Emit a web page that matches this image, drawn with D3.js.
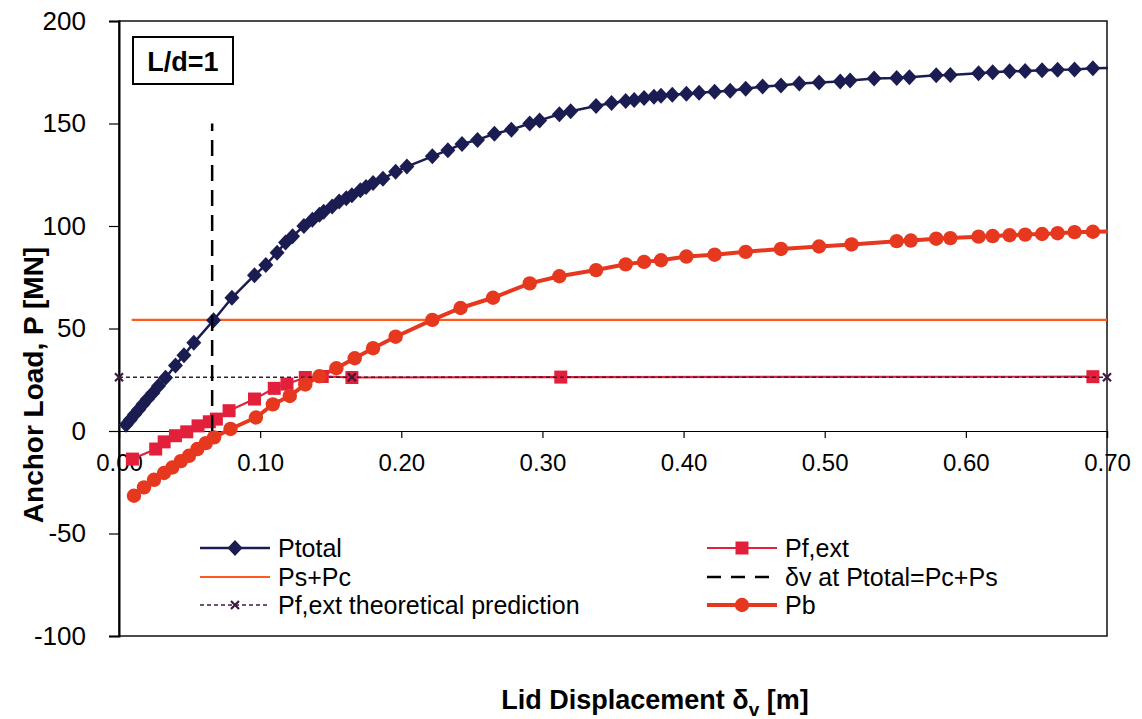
<!DOCTYPE html>
<html>
<head>
<meta charset="utf-8">
<script src="https://cdn.jsdelivr.net/npm/d3@7"></script>
<style>
  body { margin: 0; background: #fff; }
  svg { display: block; }
  text { font-family: "Liberation Sans", Arial, Helvetica, sans-serif; fill: #000; }
</style>
</head>
<body>
<svg id="chart" width="1142" height="719"></svg>
<script>
// Lid displacement [m] and anchor load components [MN], L/d = 1
const ptotalX = [0.005,0.008,0.011,0.014,0.017,0.020,0.024,0.028,0.033,0.040,
  0.046,0.053,0.067,0.080,0.096,0.104,0.112,0.118,0.123,0.131,
  0.137,0.142,0.145,0.151,0.156,0.161,0.165,0.171,0.175,0.180,
  0.187,0.196,0.204,0.222,0.233,0.243,0.254,0.266,0.278,0.291,
  0.298,0.312,0.320,0.338,0.349,0.359,0.365,0.372,0.379,0.384,
  0.392,0.402,0.411,0.422,0.433,0.444,0.456,0.469,0.482,0.496,
  0.511,0.518,0.535,0.551,0.560,0.579,0.589,0.609,0.619,0.631,
  0.642,0.654,0.665,0.677,0.690,0.710];
const ptotalY = [3,5.5,8,10.5,13,15.5,18.5,22,26,32,
  37,43,54,65,76,81,87,92,95,100,
  103,105.5,107,109.5,112,113.5,115,117.5,119,121,
  123,126.5,129,134,137,140,142,145,147,150,
  151.5,154.5,156,158.5,160,161,161.5,162.5,163,163.5,
  164,164.5,165,165.5,166,167,168,168.5,169.5,170,
  170.5,171,172,172.2,172.6,173.5,173.7,174.5,175,175.5,
  175.6,176,176.2,176.4,177,177.2];

const pbX = [0.0106,0.0177,0.0248,0.0319,0.0378,0.0438,0.0496,0.0555,0.0615,0.0674,
  0.079,0.097,0.109,0.121,0.132,0.142,0.154,0.167,0.180,0.196,
  0.222,0.242,0.265,0.291,0.312,0.338,0.359,0.372,0.384,0.402,
  0.422,0.444,0.469,0.496,0.519,0.551,0.561,0.579,0.589,0.609,
  0.619,0.631,0.642,0.654,0.665,0.677,0.690,0.710];
const pbY = [-31.6,-27.5,-23.8,-20.5,-17.8,-14.7,-12.1,-8.8,-5.9,-3.1,
  1,6.6,13,17.1,22.7,26.7,30.6,35.5,40.4,46,
  54.2,60,65,72,75.5,78.5,81.3,82.5,83.3,85.1,
  86,87.4,88.8,90,91,92.6,92.9,93.8,94.1,94.8,
  95.1,95.5,95.8,96.1,96.5,97,97.2,97.4];

const pfX = [0.0095,0.026,0.032,0.040,0.048,0.056,0.064,0.069,0.078,0.096,
  0.110,0.119,0.132,0.144,0.165,0.313,0.690];
const pfY = [-13.7,-8.8,-5.3,-2.3,-0.4,2.5,4.5,5.8,9.9,15.6,
  20.8,22.9,26.1,26.6,26.1,26.3,26.5];

const theoryX = [0, 0.165, 0.70];
const theoryY = [26.2, 26.2, 26.2];

const pspcX = [0.009, 0.70];
const pspcY = [54.2, 54.2];

const dvX = [0.066, 0.066];
const dvY = [0, 150];

const xTicks = [0, 0.1, 0.2, 0.3, 0.4, 0.5, 0.6, 0.7];
const yTicks = [-100, -50, 0, 50, 100, 150, 200];

const legendLeft = ["Ptotal", "Ps+Pc", "Pf,ext theoretical prediction"];
const legendRight = ["Pf,ext", "\u03b4v at Ptotal=Pc+Ps", "Pb"];

const C = {
  ptotal: "#1b1c52",
  pspc: "#ff5a1c",
  pf: "#e2203c",
  pb: "#e6381f",
  theory: "#3c1a3c",
  dv: "#000"
};

const svg = d3.select("#chart");
const plot = { left: 119, right: 1107, top: 21, bottom: 636 };
const x = d3.scaleLinear().domain([0, 0.7]).range([plot.left, plot.right]);
const y = d3.scaleLinear().domain([-100, 200]).range([plot.bottom, plot.top]);

const zip = (xs, ys) => xs.map((v, i) => [v, ys[i]]);
const line = d3.line().x(d => x(d[0])).y(d => y(d[1]));
const inside = d => d[0] <= 0.7;

svg.append("defs").append("clipPath").attr("id", "plotClip")
  .append("rect")
  .attr("x", plot.left).attr("y", plot.top)
  .attr("width", plot.right - plot.left + 1).attr("height", plot.bottom - plot.top);

// plot area frame
svg.append("rect")
  .attr("x", plot.left).attr("y", plot.top)
  .attr("width", plot.right - plot.left).attr("height", plot.bottom - plot.top)
  .attr("fill", "none").attr("stroke", "#111").attr("stroke-width", 1.5);

// y axis (ticks outside to the left)
const yAxis = d3.axisLeft(y).tickValues(yTicks).tickSize(10).tickPadding(23).tickFormat(d => String(d));
const gy = svg.append("g").attr("transform", `translate(${plot.left},0)`).call(yAxis);
gy.select(".domain").attr("stroke", "#000").attr("stroke-width", 2);
gy.selectAll(".tick line").attr("stroke", "#000").attr("stroke-width", 1.2);
gy.selectAll("text").style("font-size", "26px").attr("fill", "#000");

// x axis along zero load
const xAxis = d3.axisBottom(x).tickValues(xTicks).tickSize(7).tickPadding(16).tickFormat(d3.format(".2f"));
const gx = svg.append("g").attr("transform", `translate(0,${y(0)})`).call(xAxis);
gx.select(".domain").attr("stroke", "#000").attr("stroke-width", 1.2);
gx.selectAll(".tick line").attr("stroke", "#000").attr("stroke-width", 1.2);
gx.selectAll("text").style("font-size", "24px").attr("fill", "#000");

const series = svg.append("g");
const clipped = series.append("g").attr("clip-path", "url(#plotClip)");

// Ps + Pc
clipped.append("path").datum(zip(pspcX, pspcY))
  .attr("d", line).attr("fill", "none").attr("stroke", C.pspc).attr("stroke-width", 2.2);

// Pf,ext
const pfData = zip(pfX, pfY);
clipped.append("path").datum(pfData)
  .attr("d", line).attr("fill", "none").attr("stroke", C.pf).attr("stroke-width", 2.2);
const sq = 6.5;
series.append("g").selectAll("rect").data(pfData).join("rect")
  .attr("x", d => x(d[0]) - sq).attr("y", d => y(d[1]) - sq)
  .attr("width", 2 * sq).attr("height", 2 * sq).attr("fill", C.pf);

// theoretical prediction
const thData = zip(theoryX, theoryY);
series.append("path").datum(thData)
  .attr("d", line).attr("fill", "none").attr("stroke", C.theory)
  .attr("stroke-width", 1.4).attr("stroke-dasharray", "4,3");
const xMark = "M-4,-4L4,4M-4,4L4,-4";
series.append("g").selectAll("path").data(thData).join("path")
  .attr("d", xMark).attr("transform", d => `translate(${x(d[0])},${y(d[1])})`)
  .attr("stroke", C.theory).attr("stroke-width", 2.2).attr("fill", "none");

// Pb
const pbData = zip(pbX, pbY);
clipped.append("path").datum(pbData)
  .attr("d", line).attr("fill", "none").attr("stroke", C.pb).attr("stroke-width", 4);
series.append("g").selectAll("circle").data(pbData.filter(inside)).join("circle")
  .attr("cx", d => x(d[0])).attr("cy", d => y(d[1])).attr("r", 7.2).attr("fill", C.pb);

// Ptotal
const ptData = zip(ptotalX, ptotalY);
clipped.append("path").datum(ptData)
  .attr("d", line).attr("fill", "none").attr("stroke", C.ptotal).attr("stroke-width", 2.5);
const diamond = "M0,-8L7.5,0L0,8L-7.5,0Z";
series.append("g").selectAll("path").data(ptData.filter(inside)).join("path")
  .attr("d", diamond).attr("transform", d => `translate(${x(d[0])},${y(d[1])})`)
  .attr("fill", C.ptotal);

// δv at Ptotal = Pc + Ps
series.append("path").datum(zip(dvX, dvY))
  .attr("d", line).attr("fill", "none").attr("stroke", C.dv)
  .attr("stroke-width", 2.5).attr("stroke-dasharray", "16,9");

// L/d label
const tag = svg.append("g");
tag.append("rect").attr("x", 133).attr("y", 37).attr("width", 100).attr("height", 47)
  .attr("fill", "#fff").attr("stroke", "#000").attr("stroke-width", 2);
tag.append("text").attr("x", 183).attr("y", 71).attr("text-anchor", "middle")
  .style("font-size", "27px").style("font-weight", "bold").text("L/d=1");

// legend
const rowY = [548, 577, 605];
const legend = svg.append("g").style("font-size", "25px");
function legendRow(x1, yy, label, kind) {
  const g = legend.append("g");
  const mid = x1 + 35;
  const base = (stroke, w) => g.append("line")
    .attr("x1", x1).attr("x2", x1 + 70).attr("y1", yy).attr("y2", yy)
    .attr("stroke", stroke).attr("stroke-width", w);
  if (kind === "ptotal") {
    base(C.ptotal, 2.5);
    g.append("path").attr("d", diamond).attr("transform", `translate(${mid},${yy})`).attr("fill", C.ptotal);
  } else if (kind === "pspc") {
    base(C.pspc, 2.2);
  } else if (kind === "theory") {
    base(C.theory, 1.4).attr("stroke-dasharray", "4,3");
    g.append("path").attr("d", xMark).attr("transform", `translate(${mid},${yy})`)
      .attr("stroke", C.theory).attr("stroke-width", 2.2);
  } else if (kind === "pf") {
    base(C.pf, 2.2);
    g.append("rect").attr("x", mid - sq).attr("y", yy - sq).attr("width", 2 * sq).attr("height", 2 * sq).attr("fill", C.pf);
  } else if (kind === "dv") {
    base(C.dv, 2.5).attr("stroke-dasharray", "14,10");
  } else if (kind === "pb") {
    base(C.pb, 4);
    g.append("circle").attr("cx", mid).attr("cy", yy).attr("r", 7.2).attr("fill", C.pb);
  }
  g.append("text").attr("x", x1 + 78).attr("y", yy).attr("dy", "0.36em").text(label);
}
["ptotal", "pspc", "theory"].forEach((k, i) => legendRow(200, rowY[i], legendLeft[i], k));
["pf", "dv", "pb"].forEach((k, i) => legendRow(707, rowY[i], legendRight[i], k));

// axis titles
svg.append("text")
  .attr("transform", `translate(33,385) rotate(-90)`)
  .attr("text-anchor", "middle").attr("dy", "0.35em")
  .style("font-size", "28px").style("font-weight", "bold")
  .text("Anchor Load, P [MN]");

const xt = svg.append("text")
  .attr("x", 655).attr("y", 709).attr("text-anchor", "middle")
  .style("font-size", "27px").style("font-weight", "bold");
xt.append("tspan").text("Lid Displacement \u03b4");
xt.append("tspan").attr("dy", 7).style("font-size", "19px").text("v");
xt.append("tspan").attr("dy", -7).text(" [m]");
</script>
</body>
</html>
